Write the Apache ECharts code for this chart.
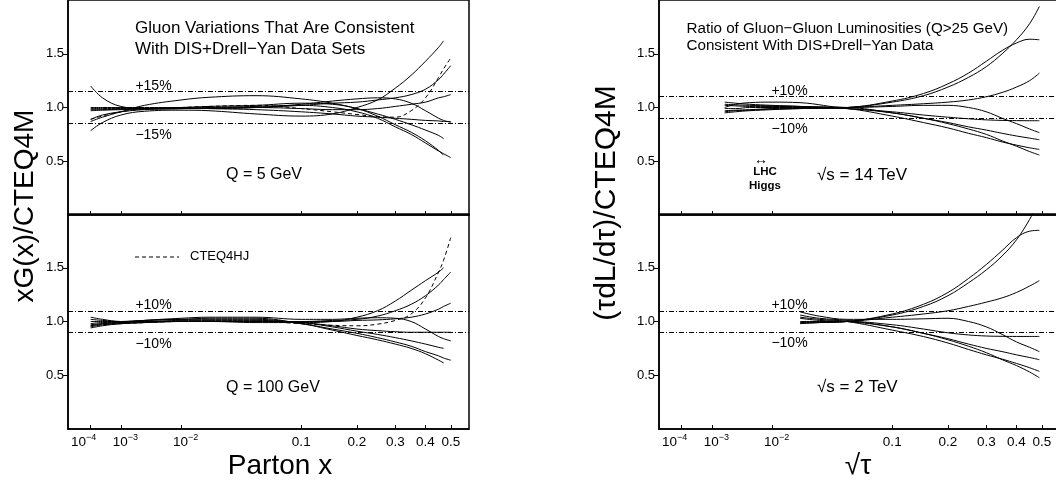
<!DOCTYPE html>
<html><head><meta charset="utf-8">
<script src="https://cdn.jsdelivr.net/npm/echarts@6/dist/echarts.min.js"></script>
<style>html,body{margin:0;padding:0;background:#fff}#c{width:1056px;height:481px}</style>
</head><body><div id="c"></div>
<script>
// ---- axis transform: plotted coordinate u = x^0.3 ----
const POW = 0.3;
const U_MIN = 0.0159, U_MAX = 0.8502;
const xTickValues = [1e-4, 1e-3, 1e-2, 0.1, 0.2, 0.3, 0.4, 0.5];
const xTickLabels = ['10|−4', '10|−3', '10|−2', '0.1', '0.2', '0.3', '0.4', '0.5'];
const yTickValues = [0.5, 1.0, 1.5];

// reference bands
const bandQ5 = [1.15, 0.85];
const bandOther = [1.1, 0.9];

// ---- left panels: parton x ----
const xParton = [1e-4, 3e-4, 1e-3, 3e-3, 0.01, 0.02, 0.05, 0.1, 0.15, 0.2, 0.25, 0.3, 0.35, 0.4, 0.45, 0.47, 0.5];
// Q = 5 GeV
const q5_a = [0.785, 0.86, 0.93, 0.965, 0.975, 0.97, 0.94, 0.92, 0.94, 1.0, 1.07, 1.18, 1.30, 1.43, 1.56, 1.62, null];
const q5_b = [1.2, 1.09, 1.01, 0.99, 0.99, 1.0, 1.01, 1.02, 1.0, 0.96, 0.9, 0.82, 0.75, 0.67, 0.595, 0.57, 0.534];
const q5_c = [0.87, 0.91, 0.96, 1.02, 1.07, 1.095, 1.11, 1.08, 1.04, 0.99, 0.94, 0.89, 0.84, 0.79, 0.74, 0.71, null];
const q5_d = [0.98, 0.98, 0.985, 0.99, 1.0, 1.01, 1.02, 1.04, 1.03, 0.99, 0.92, 0.84, 0.77, 0.69, 0.6, 0.556, null];
const q5_e = [0.99, 0.99, 0.99, 0.99, 0.99, 0.99, 1.0, 1.03, 1.06, 1.08, 1.09, 1.08, 1.04, 0.97, 0.9, 0.88, 0.862];
const q5_f = [0.97, 0.975, 0.98, 0.985, 0.99, 0.995, 1.0, 1.02, 1.04, 1.05, 1.07, 1.09, 1.12, 1.17, 1.26, 1.31, 1.39];
const q5_g = [0.89, 0.93, 0.96, 0.98, 0.99, 0.995, 1.0, 0.99, 0.98, 0.98, 0.99, 1.01, 1.03, 1.05, 1.09, 1.1, 1.12];
const q5_h = [1.0, 1.0, 1.0, 1.0, 1.0, 0.99, 0.98, 0.96, 0.94, 0.92, 0.91, 0.9, 0.89, 0.88, 0.875, 0.87, 0.87];
const q5_hj = [0.89, 0.92, 0.96, 0.985, 1.0, 1.01, 1.02, 0.99, 0.96, 0.935, 0.915, 0.91, 0.97, 1.09, 1.28, 1.36, 1.46];
// Q = 100 GeV
const q100_a = [0.94, 0.96, 0.98, 0.99, 1.0, 1.0, 0.99, 0.99, 1.0, 1.04, 1.1, 1.19, 1.29, 1.38, 1.46, 1.5, null];
const q100_b = [0.95, 0.97, 0.98, 0.99, 1.0, 1.0, 1.0, 1.0, 1.01, 1.02, 1.05, 1.1, 1.16, 1.24, 1.34, 1.39, 1.46];
const q100_c = [0.97, 0.98, 0.99, 1.0, 1.0, 1.0, 1.0, 1.0, 1.0, 1.01, 1.015, 1.025, 1.04, 1.07, 1.115, 1.14, 1.17];
const q100_d = [0.98, 0.99, 0.99, 1.0, 1.0, 1.0, 1.0, 0.99, 0.96, 0.93, 0.915, 0.905, 0.9, 0.9, 0.9, 0.9, 0.9];
const q100_e = [0.96, 0.98, 0.99, 1.01, 1.03, 1.04, 1.04, 1.02, 1.02, 1.03, 1.035, 1.03, 1.0, 0.93, 0.86, 0.84, 0.82];
const q100_f = [1.0, 1.0, 1.0, 1.0, 1.01, 1.01, 1.01, 0.99, 0.95, 0.91, 0.88, 0.85, 0.82, 0.79, 0.76, 0.75, null];
const q100_g = [1.02, 1.01, 1.0, 1.01, 1.02, 1.02, 1.02, 0.98, 0.93, 0.89, 0.85, 0.81, 0.77, 0.72, 0.68, 0.66, 0.64];
const q100_h = [1.04, 1.02, 1.0, 1.01, 1.02, 1.03, 1.03, 0.98, 0.92, 0.87, 0.83, 0.79, 0.75, 0.7, 0.64, 0.615, null];
const q100_hj = [0.96, 0.97, 0.98, 0.99, 1.0, 1.0, 1.0, 0.98, 0.965, 0.96, 0.975, 1.01, 1.07, 1.22, 1.46, 1.57, 1.78];

// ---- right panels: sqrt(tau) ----
const xLhc = [0.0019, 0.003, 0.005, 0.01, 0.02, 0.05, 0.1, 0.15, 0.2, 0.25, 0.3, 0.35, 0.4, 0.45, 0.49];
const lhc_a = [0.95, 0.96, 0.97, 0.98, 0.99, 1.0, 1.05, 1.11, 1.19, 1.28, 1.38, 1.5, 1.63, 1.78, 1.94];
const lhc_b = [0.96, 0.97, 0.975, 0.985, 0.99, 1.0, 1.06, 1.13, 1.22, 1.32, 1.43, 1.53, 1.6, 1.635, 1.63];
const lhc_c = [0.97, 0.975, 0.98, 0.99, 0.995, 1.0, 1.02, 1.035, 1.05, 1.07, 1.1, 1.14, 1.19, 1.25, 1.32];
const lhc_d = [0.99, 0.99, 1.0, 1.0, 1.0, 0.99, 0.96, 0.93, 0.91, 0.895, 0.885, 0.88, 0.878, 0.877, 0.877];
const lhc_e = [1.0, 1.03, 1.045, 1.05, 1.045, 1.0, 1.01, 1.02, 1.02, 1.0, 0.96, 0.9, 0.85, 0.8, 0.766];
const lhc_f = [1.02, 1.015, 1.01, 1.01, 1.005, 1.0, 0.95, 0.9, 0.86, 0.82, 0.79, 0.76, 0.735, 0.715, 0.7];
const lhc_g = [1.03, 1.025, 1.02, 1.015, 1.01, 0.99, 0.92, 0.86, 0.81, 0.76, 0.72, 0.68, 0.65, 0.625, 0.61];
const lhc_h = [1.05, 1.04, 1.03, 1.02, 1.01, 0.99, 0.95, 0.9, 0.85, 0.8, 0.75, 0.69, 0.64, 0.59, 0.558];

const xTev = [0.02, 0.03, 0.05, 0.1, 0.15, 0.2, 0.25, 0.3, 0.35, 0.4, 0.45, 0.49];
const tev_a = [0.98, 0.99, 1.0, 1.06, 1.14, 1.24, 1.36, 1.48, 1.61, 1.76, 1.95, 2.12];
const tev_b = [0.985, 0.99, 1.0, 1.07, 1.16, 1.27, 1.4, 1.53, 1.66, 1.78, 1.84, 1.848];
const tev_c = [0.99, 0.995, 1.0, 1.04, 1.07, 1.1, 1.14, 1.18, 1.22, 1.27, 1.33, 1.38];
const tev_d = [1.0, 1.0, 1.0, 0.97, 0.93, 0.895, 0.875, 0.865, 0.862, 0.861, 0.861, 0.861];
const tev_e = [1.09, 1.05, 1.02, 1.02, 1.025, 1.03, 1.0, 0.95, 0.88, 0.81, 0.76, 0.72];
const tev_f = [1.06, 1.03, 1.01, 0.95, 0.89, 0.84, 0.79, 0.75, 0.72, 0.69, 0.665, 0.645];
const tev_g = [1.04, 1.02, 1.0, 0.92, 0.86, 0.8, 0.74, 0.69, 0.65, 0.61, 0.57, 0.536];
const tev_h = [1.03, 1.01, 1.0, 0.95, 0.89, 0.83, 0.77, 0.71, 0.645, 0.59, 0.53, 0.477];

// ---- build ----
const FONT = '"Liberation Sans", Arial, sans-serif';
const tickU = xTickValues.map(x => Math.pow(x, POW));

function tickLabel(u) {
  let best = 0, bd = 1e9;
  tickU.forEach((t, i) => { const d = Math.abs(t - u); if (d < bd) { bd = d; best = i; } });
  const lab = xTickLabels[best];
  if (lab.indexOf('|') >= 0) {
    const p = lab.split('|');
    return best === 0 ? '{b|' + p[0] + '}{s|' + p[1] + '}{h|}' : '{g|}{b|' + p[0] + '}{s|' + p[1] + '}';
  }
  return '{b|' + lab + '}';
}

const grids = [
  {left: 68, top: 0, width: 401, height: 215},
  {left: 68, top: 214, width: 401, height: 215},
  {left: 659, top: 0, width: 401, height: 215},
  {left: 659, top: 214, width: 401, height: 215}
].map(g => Object.assign(g, {show: true, borderColor: '#000', borderWidth: 1.5, containLabel: false, outerBoundsMode: 'none'}));

function xAx(i, showLabels) {
  return {
    type: 'value', gridIndex: i, min: U_MIN, max: U_MAX, position: 'bottom',
    axisLine: {show: true, lineStyle: {color: '#000', width: 1.5}},
    splitLine: {show: false},
    axisTick: {show: true, inside: true, length: 4, customValues: tickU, lineStyle: {color: '#000', width: 1}},
    axisLabel: {
      show: showLabels, customValues: tickU, margin: 4, formatter: v => tickLabel(v),
      rich: {
        b: {fontSize: 13.5, fontFamily: FONT, color: '#000', lineHeight: 16, verticalAlign: 'bottom'},
        s: {fontSize: 9, fontFamily: FONT, color: '#000', lineHeight: 10, verticalAlign: 'top'},
        g: {width: 9}, h: {width: 14}
      }
    }
  };
}
function yAx(i) {
  return {
    type: 'value', gridIndex: i, min: 0, max: 2, interval: 0.5,
    axisLine: {show: true, lineStyle: {color: '#000', width: 1.5}},
    splitLine: {show: false},
    axisTick: {show: true, inside: false, length: 5, customValues: yTickValues, lineStyle: {color: '#000', width: 1}},
    axisLabel: {fontSize: 13, fontFamily: FONT, color: '#000', margin: 4, customValues: yTickValues,
      formatter: v => v.toFixed(1)}
  };
}

function curve(xs, ys, g, dashed, band) {
  const data = [];
  xs.forEach((x, i) => { if (ys[i] != null) data.push([Math.pow(x, POW), ys[i]]); });
  const s = {
    type: 'line', xAxisIndex: g, yAxisIndex: g, data, smooth: 0.4, symbol: 'none', silent: true,
    lineStyle: {color: '#000', width: 1, type: dashed ? [4, 3] : 'solid'}, z: 3, clip: true
  };
  if (band) {
    s.markLine = {
      symbol: ['none', 'none'], silent: true, label: {show: false},
      lineStyle: {color: '#000', width: 1, type: [5, 2, 1, 2]},
      data: band.map(v => ({yAxis: v}))
    };
  }
  return s;
}

const series = [];
[q5_a, q5_b, q5_c, q5_d, q5_e, q5_f, q5_g, q5_h].forEach((c, i) => series.push(curve(xParton, c, 0, false, i === 0 ? bandQ5 : null)));
series.push(curve(xParton, q5_hj, 0, true));
[q100_a, q100_b, q100_c, q100_d, q100_e, q100_f, q100_g, q100_h].forEach((c, i) => series.push(curve(xParton, c, 1, false, i === 0 ? bandOther : null)));
series.push(curve(xParton, q100_hj, 1, true));
[lhc_a, lhc_b, lhc_c, lhc_d, lhc_e, lhc_f, lhc_g, lhc_h].forEach((c, i) => series.push(curve(xLhc, c, 2, false, i === 0 ? bandOther : null)));
[tev_a, tev_b, tev_c, tev_d, tev_e, tev_f, tev_g, tev_h].forEach((c, i) => series.push(curve(xTev, c, 3, false, i === 0 ? bandOther : null)));

function txt(x, y, text, size, align, extra, weight) {
  return Object.assign({
    type: 'text', x: x, y: y, z: 10, silent: true,
    style: {text: text, x: 0, y: 0, font: (weight ? weight + ' ' : '') + size + 'px ' + FONT, fill: '#000',
      textAlign: align || 'left', textVerticalAlign: 'middle', align: align || 'left', verticalAlign: 'middle'}
  }, extra || {});
}

const graphics = [
  txt(135, 28, 'Gluon Variations That Are Consistent', 17),
  txt(135, 49.5, 'With DIS+Drell−Yan Data Sets', 17),
  txt(153.5, 86, '+15%', 14, 'center'),
  txt(153.5, 135, '−15%', 14, 'center'),
  txt(226, 175, 'Q = 5 GeV', 16),
  {type: 'line', z: 10, silent: true, shape: {x1: 135, y1: 257, x2: 179, y2: 257}, style: {stroke: '#000', lineWidth: 1, lineDash: [4, 3]}},
  txt(190, 256, 'CTEQ4HJ', 13),
  txt(153.5, 305.5, '+10%', 14, 'center'),
  txt(153.5, 344, '−10%', 14, 'center'),
  txt(226, 388, 'Q = 100 GeV', 16),
  txt(686.5, 28.5, 'Ratio of Gluon−Gluon Luminosities (Q>25 GeV)', 15.2),
  txt(686.5, 45.5, 'Consistent With DIS+Drell−Yan Data', 15.2),
  txt(789.5, 91, '+10%', 14, 'center'),
  txt(789.5, 129.5, '−10%', 14, 'center'),
  txt(817, 175, '√s = 14 TeV', 17),
  txt(761, 160, '↔', 14, 'center'),
  txt(765, 172, 'LHC', 11.5, 'center', null, 'bold'),
  txt(765, 186, 'Higgs', 11.5, 'center', null, 'bold'),
  txt(789.5, 305, '+10%', 14, 'center'),
  txt(789.5, 343, '−10%', 14, 'center'),
  txt(817, 387, '√s = 2 TeV', 17),
  txt(280, 466, 'Parton x', 28, 'center'),
  txt(858, 466, '√τ', 28, 'center'),
  txt(25, 206, 'xG(x)/CTEQ4M', 28, 'center', {rotation: Math.PI / 2}),
  txt(607, 203, '(τdL/dτ)/CTEQ4M', 30, 'center', {rotation: Math.PI / 2})
];

const chart = echarts.init(document.getElementById('c'), null, {renderer: 'canvas'});
chart.setOption({
  animation: false,
  backgroundColor: '#fff',
  grid: grids,
  xAxis: [xAx(0, false), xAx(1, true), xAx(2, false), xAx(3, true)],
  yAxis: [yAx(0), yAx(1), yAx(2), yAx(3)],
  series: series,
  graphic: graphics
});
</script></body></html>
